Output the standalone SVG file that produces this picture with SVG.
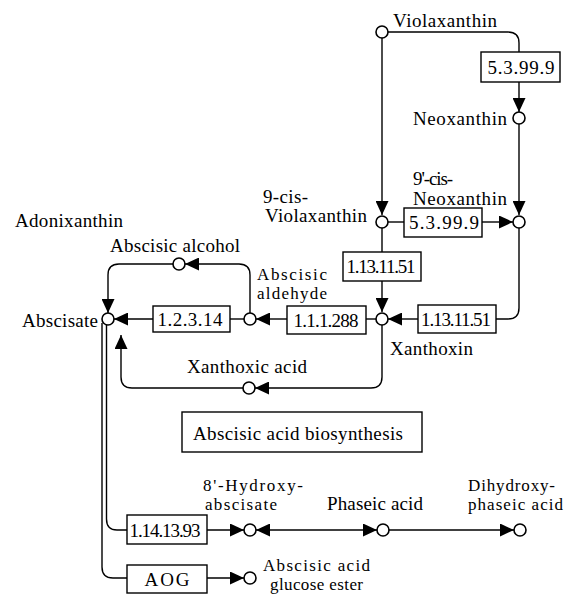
<svg xmlns="http://www.w3.org/2000/svg" width="566" height="595" viewBox="0 0 566 595">
<style>
text{font-family:"Liberation Serif","DejaVu Serif",serif;font-size:19px;fill:#000}
text.s{font-size:17px}
.c{fill:#fff;stroke:#000;stroke-width:1.6}
.b{fill:#fff;stroke:#000;stroke-width:1.4}
.l{fill:none;stroke:#000;stroke-width:1.4}
.m{text-anchor:middle}
</style>
<defs>
<marker id="a" markerUnits="userSpaceOnUse" markerWidth="15" markerHeight="13" refX="14" refY="6.5" orient="auto">
<path d="M0,0 L14,6.5 L0,13 z" fill="#000"/>
</marker>
<marker id="s" markerUnits="userSpaceOnUse" markerWidth="15" markerHeight="13" refX="0" refY="6.5" orient="auto">
<path d="M14,0 L0,6.5 L14,13 z" fill="#000"/>
</marker>
</defs>
<g id="connectors">
<path class="l" d="M382,38 V215" marker-end="url(#a)"/>
<path class="l" d="M388,32 H508 Q519,32 519,43 V52"/>
<path class="l" d="M519,82 V112" marker-end="url(#a)"/>
<path class="l" d="M519,124 V215" marker-end="url(#a)"/>
<path class="l" d="M388,222 H404"/>
<path class="l" d="M482,222 H513" marker-end="url(#a)"/>
<path class="l" d="M382,228 V252"/>
<path class="l" d="M382,281 V312" marker-end="url(#a)"/>
<path class="l" d="M519,228 V308 Q519,319 508,319 H496"/>
<path class="l" d="M418,319 H388" marker-end="url(#a)"/>
<path class="l" d="M376,319 H366"/>
<path class="l" d="M287,319 H256" marker-end="url(#a)"/>
<path class="l" d="M244,319 H230"/>
<path class="l" d="M153,319 H114" marker-end="url(#a)"/>
<path class="l" d="M250,313 V275 Q250,264 239,264 H185" marker-end="url(#a)"/>
<path class="l" d="M173,264 H119 Q108,264 108,275 V313" marker-end="url(#a)"/>
<path class="l" d="M382,325 V377 Q382,388 371,388 H255" marker-end="url(#a)"/>
<path class="l" d="M243,388 H132 Q121,388 121,377 V335" marker-end="url(#a)"/>
<path class="l" d="M106.5,324 V519 Q106.5,530 117,530 H127"/>
<path class="l" d="M207,530 H244" marker-end="url(#a)"/>
<path class="l" d="M256,530 H377" marker-start="url(#s)" marker-end="url(#a)"/>
<path class="l" d="M389,530 H514" marker-end="url(#a)"/>
<path class="l" d="M102,323 V567 Q102,578 113,578 H127"/>
<path class="l" d="M207,578 H244" marker-end="url(#a)"/>
</g>
<g id="violaxanthin"><circle class="c" cx="382" cy="32" r="6"/><text x="393" y="27" textLength="104">Violaxanthin</text></g>
<g id="ec-5.3.99.9-a"><rect class="b" x="481" y="52" width="79" height="30"/><text class="m" x="521" y="74" textLength="67">5.3.99.9</text></g>
<g id="neoxanthin"><circle class="c" cx="519" cy="118" r="6"/><text x="413" y="125" textLength="94">Neoxanthin</text></g>
<g id="cis-violaxanthin"><circle class="c" cx="382" cy="222" r="6"/><text x="263" y="203" textLength="45">9-cis-</text><text x="265" y="222" textLength="102">Violaxanthin</text></g>
<g id="cis-neoxanthin"><circle class="c" cx="519" cy="222" r="6"/><text x="413" y="185" textLength="40">9'-cis-</text><text x="413" y="205" textLength="94">Neoxanthin</text></g>
<g id="ec-5.3.99.9-b"><rect class="b" x="404" y="208" width="78" height="29"/><text class="m" x="444" y="229" textLength="70">5.3.99.9</text></g>
<g id="ec-1.13.11.51-a"><rect class="b" x="343" y="252" width="78" height="29"/><text class="m" x="381" y="273" textLength="69">1.13.11.51</text></g>
<g id="xanthoxin"><circle class="c" cx="382" cy="319" r="6"/><text x="390" y="355" textLength="83">Xanthoxin</text></g>
<g id="ec-1.13.11.51-b"><rect class="b" x="418" y="305" width="78" height="28"/><text class="m" x="456" y="326" textLength="70">1.13.11.51</text></g>
<g id="ec-1.1.1.288"><rect class="b" x="287" y="306" width="79" height="28"/><text class="m" x="326" y="327" textLength="65">1.1.1.288</text></g>
<g id="abscisic-aldehyde"><circle class="c" cx="250" cy="319" r="6"/><text class="s" x="257" y="280" textLength="70">Abscisic</text><text class="s" x="257" y="299" textLength="70">aldehyde</text></g>
<g id="ec-1.2.3.14"><rect class="b" x="153" y="306" width="77" height="26"/><text class="m" x="190" y="326" textLength="65">1.2.3.14</text></g>
<g id="abscisate"><circle class="c" cx="108" cy="319" r="6"/><text x="22" y="327" textLength="76">Abscisate</text></g>
<g id="adonixanthin"><text x="15" y="227" textLength="108">Adonixanthin</text></g>
<g id="abscisic-alcohol"><circle class="c" cx="179" cy="264" r="6"/><text x="110" y="252" textLength="130">Abscisic alcohol</text></g>
<g id="xanthoxic-acid"><circle class="c" cx="249" cy="388" r="6"/><text x="187" y="373" textLength="120">Xanthoxic acid</text></g>
<g id="title"><rect class="b" x="182" y="412" width="240" height="40"/><text x="193" y="440" textLength="210">Abscisic acid biosynthesis</text></g>
<g id="ec-1.14.13.93"><rect class="b" x="127" y="515" width="80" height="29"/><text class="m" x="165" y="537" textLength="71">1.14.13.93</text></g>
<g id="hydroxy-abscisate"><circle class="c" cx="250" cy="530" r="6"/><text class="s" x="203" y="491" textLength="100">8'-Hydroxy-</text><text class="s" x="205" y="510" textLength="72">abscisate</text></g>
<g id="phaseic-acid"><circle class="c" cx="383" cy="530" r="6"/><text x="327" y="510" textLength="96">Phaseic acid</text></g>
<g id="dihydroxyphaseic-acid"><circle class="c" cx="520" cy="530" r="6"/><text class="s" x="468" y="491" textLength="87">Dihydroxy-</text><text class="s" x="468" y="510" textLength="95">phaseic acid</text></g>
<g id="aog"><rect class="b" x="127" y="565" width="80" height="28"/><text class="m" x="167" y="586" textLength="45">AOG</text></g>
<g id="aba-glucose-ester"><circle class="c" cx="250" cy="578" r="6"/><text class="s" x="263" y="571" textLength="107">Abscisic acid</text><text class="s" x="270" y="590" textLength="93">glucose ester</text></g>
</svg>
